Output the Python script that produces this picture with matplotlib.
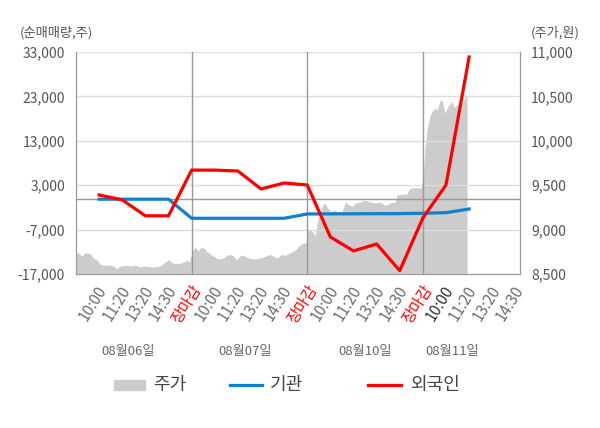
import matplotlib
matplotlib.use('Agg')
import matplotlib.pyplot as plt
import matplotlib.transforms as mtransforms
from matplotlib.lines import Line2D
from matplotlib.patches import Rectangle

plt.rcParams['font.family'] = ['Noto Sans CJK KR', 'DejaVu Sans']

# x labels (one slot each), days
tick_labels = ['10:00', '11:20', '13:20', '14:30', '장마감'] * 3 + ['10:00', '11:20', '13:20', '14:30']
dates = ['08월06일', '08월07일', '08월10일', '08월11일']

# net buying (shares) at slots 1..17
flow_slots = list(range(1, 18))
foreign = [800, -300, -3900, -3900, 6400, 6400, 6200, 2150, 3500, 3050,
           -8660, -11800, -10240, -16250, -4380, 3050, 31870]
institution = [-150, -150, -150, -150, -4450, -4450, -4450, -4450, -4450, -3480,
               -3460, -3440, -3420, -3400, -3320, -3190, -2360]

# stock price (won)
price_t = [0, 0.10, 0.25, 0.39, 0.61, 0.75, 0.90, 1.04, 1.18, 1.47, 1.61, 1.76, 1.90, 2.12,
           2.34, 2.55, 2.77, 2.99, 3.20, 3.42, 3.64, 3.78, 4.00, 4.21, 4.50, 4.72, 4.79, 4.90,
           5.01, 5.15, 5.29, 5.41, 5.55, 5.66, 5.80, 5.94, 6.16, 6.38, 6.52, 6.67, 6.81, 6.96,
           7.10, 7.24, 7.46, 7.75, 7.97, 8.18, 8.40, 8.54, 8.69, 8.90, 9.05, 9.19, 9.34, 9.48,
           9.70, 9.84, 9.94,
           10.0, 10.13, 10.27, 10.35, 10.42, 10.56, 10.71, 10.85, 11.00, 11.14, 11.35, 11.50,
           11.65, 11.79, 11.94, 12.08, 12.29, 12.51, 12.73, 12.94, 13.16, 13.38, 13.59, 13.81,
           13.88, 14.17, 14.32, 14.39, 14.53, 14.75, 14.92,
           15.03, 15.11, 15.18, 15.25, 15.32, 15.40, 15.47, 15.54, 15.61, 15.68, 15.76, 15.83,
           15.90, 15.97, 16.05, 16.12, 16.19, 16.26, 16.33, 16.41, 16.48, 16.55, 16.62, 16.70,
           16.77, 16.84, 16.91]
price = [8730, 8740, 8700, 8740, 8730, 8680, 8660, 8610, 8600, 8600, 8590, 8560, 8590, 8600,
         8590, 8600, 8580, 8590, 8580, 8580, 8590, 8620, 8660, 8620, 8620, 8640, 8660, 8630,
         8750, 8800, 8760, 8800, 8790, 8750, 8730, 8700, 8670, 8680, 8710, 8720, 8700, 8660,
         8710, 8710, 8680, 8670, 8680, 8700, 8720, 8700, 8680, 8720, 8710, 8730, 8750, 8770,
         8830, 8850, 8850,
         9010, 9000, 8960, 8930, 9070, 9200, 9300, 9260, 9200, 9220, 9200, 9200,
         9310, 9280, 9260, 9300, 9310, 9330, 9310, 9300, 9310, 9270, 9300, 9310,
         9390, 9400, 9400, 9450, 9470, 9470, 9470,
         9650, 9970, 10120, 10220, 10290, 10330, 10350, 10370, 10340, 10400, 10460, 10450,
         10380, 10310, 10370, 10400, 10420, 10440, 10390, 10380, 10420, 10380, 10400, 10420,
         10460, 10480, 10520]

day_breaks = [5, 10, 15]

fig = plt.figure(figsize=(6, 4.28), dpi=100)
ax = fig.add_axes([76 / 600, 1 - 274 / 428, 444 / 600, 222 / 428])
axp = ax.twinx()

# price panel behind, flows in front
ax.set_zorder(axp.get_zorder() + 1)
ax.patch.set_visible(False)
axp.set_facecolor('#f4f4f4')

axp.fill_between(price_t, price, 8500, color='#cccccc', lw=0)
axp.set_ylim(8500, 11000)
axp.set_yticks(range(8500, 11001, 500))
axp.set_yticklabels([f'{v:,}' for v in range(8500, 11001, 500)])

ax.set_ylim(-17000, 33000)
yt = list(range(-17000, 33001, 10000))
ax.set_yticks(yt)
ax.set_yticklabels([f'{v:,}' for v in yt])
for v in yt:
    ax.axhline(v, color='#dddddd', lw=1, zorder=1)
ax.axhline(0, color='#999999', lw=1, zorder=1)
for b in day_breaks:
    ax.axvline(b, color='#999999', lw=1, zorder=1)

ax.plot(flow_slots, institution, color='#0a82cf', lw=2.3, zorder=3)
ax.plot(flow_slots, foreign, color='#ff0000', lw=2.3, zorder=4)

ax.set_xlim(0, 19.2)
ax.set_xticks(range(len(tick_labels)))
ax.set_xticklabels(tick_labels, rotation=58, ha='left', rotation_mode='default')
shift = mtransforms.ScaledTranslation(-5 / 100, 0, fig.dpi_scale_trans)
for i, t in enumerate(ax.get_xticklabels()):
    t.set_transform(t.get_transform() + shift)
    if tick_labels[i] == '장마감':
        t.set_color('#ff0000')
    elif i == 15:
        t.set_color('#333333')
    else:
        t.set_color('#6e6e6e')
ax.set_xticks([0] + day_breaks, minor=True)
ax.tick_params(axis='x', which='major', length=0, pad=6, labelsize=11)
ax.tick_params(axis='x', which='minor', length=5, color='#999999')
ax.tick_params(axis='y', length=0, pad=8, labelsize=10, labelcolor='#555555')
axp.tick_params(axis='y', length=0, pad=8, labelsize=10, labelcolor='#555555')

for a in (ax, axp):
    a.spines['top'].set_visible(False)
    for s in ('left', 'right', 'bottom'):
        a.spines[s].set_color('#999999')

fig.text(20 / 600, 1 - 33 / 428, '(순매매량,주)', fontsize=9.5, color='#555555', va='center', ha='left')
fig.text(580 / 600, 1 - 33 / 428, '(주가,원)', fontsize=9.5, color='#555555', va='center', ha='right')

date_x = [128, 245, 365, 452]
for d, x in zip(dates, date_x):
    fig.text(x / 600, 1 - 352 / 428, d, fontsize=9.5, color='#666666', ha='center', va='center')

# legend
ly = 1 - 385 / 428
fig.add_artist(Rectangle((114 / 600, ly - 5 / 428), 31 / 600, 10 / 428, color='#cccccc',
                         transform=fig.transFigure))
fig.text(153 / 600, ly, '주가', fontsize=13, color='#444444', va='center')
fig.add_artist(Line2D([230 / 600, 262 / 600], [ly, ly], color='#0a82cf', lw=2.3))
fig.text(270 / 600, ly, '기관', fontsize=13, color='#444444', va='center')
fig.add_artist(Line2D([368 / 600, 401 / 600], [ly, ly], color='#ff0000', lw=2.3))
fig.text(410 / 600, ly, '외국인', fontsize=13, color='#444444', va='center')

fig.savefig('out.png', dpi=100)
